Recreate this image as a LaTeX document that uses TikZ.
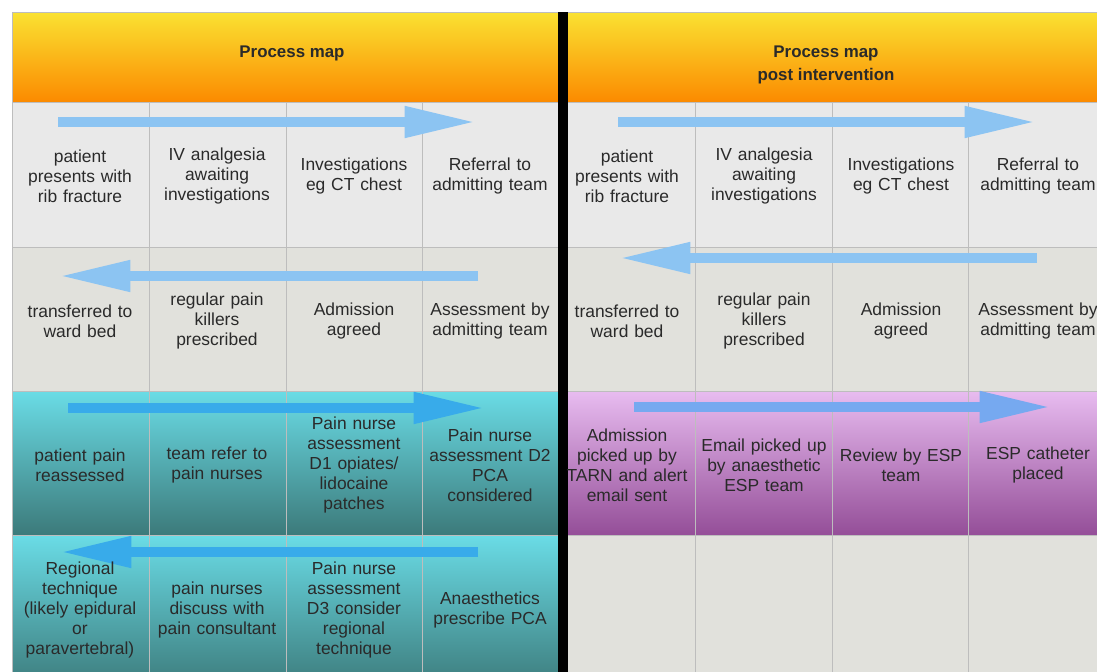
\documentclass[tikz,border=0pt]{standalone}
\usepackage{fontspec}
\setmainfont{Liberation Sans}
\usetikzlibrary{arrows.meta,positioning}
\definecolor{rowa}{HTML}{E9E9E9}
\definecolor{rowb}{HTML}{E1E1DC}
\definecolor{gridgrey}{HTML}{BDBDBD}
\definecolor{headtop}{HTML}{FAE232}
\definecolor{headbot}{HTML}{FB8A00}
\definecolor{tealtop}{HTML}{6ADCE6}
\definecolor{tealbot}{HTML}{3C7A7A}
\definecolor{purptop}{HTML}{E8BCF0}
\definecolor{purpbot}{HTML}{944E98}
\definecolor{flowpale}{HTML}{8CC4F2}
\definecolor{flowteal}{HTML}{38ABEA}
\definecolor{flowpurp}{HTML}{76A9F0}
\definecolor{txtgrey}{HTML}{2A2A2A}
\tikzset{
	cell/.style={text width=3.4cm, align=center, inner sep=0pt,
		font=\fontsize{12.4}{14.2}\selectfont, text=txtgrey},
	headtext/.style={align=center, inner sep=0pt,
		font=\fontsize{12}{16.3}\selectfont\bfseries, text=txtgrey},
	flow/.style={line width=6.6pt, -{Triangle[length=50pt,width=21pt]}},
}
\begin{document}
\begin{tikzpicture}[x=0.025cm,y=-0.025cm]
				\clip (0,0) rectangle (1097,671);
				\fill[white] (0,0) rectangle (1097,671);
				\shade[top color=headtop, bottom color=headbot] (12,12) rectangle (1110,102);
				\fill[rowa] (12,102) rectangle (1110,247);
				\fill[rowb] (12,247) rectangle (1110,391);
				\shade[top color=tealtop, bottom color=tealbot] (12,391) rectangle (558,535);
				\shade[top color=purptop, bottom color=purpbot] (558,391) rectangle (1110,535);
				\shade[top color=tealtop, bottom color=tealbot] (12,535) rectangle (558,690);
				\fill[rowb] (558,535) rectangle (1110,690);
				\foreach \x in {149,286,422,695,832,968}
				\draw[gridgrey] (\x,102) -- (\x,690);
				\foreach \y in {12,102,247,391,535}
				\draw[gridgrey] (12,\y) -- (1110,\y);
				\draw[gridgrey] (12,12) -- (12,690);
				\fill[black] (558,12) rectangle (568,690);
				\node[headtext] (mapleft) at (292,53) {Process map};
				\node[headtext] (mapright) at (826,65) {Process map\\post intervention};
				\coordinate (l1s) at (58,122);   \coordinate (l1e) at (475,122);
				\coordinate (l2s) at (478,276);  \coordinate (l2e) at (60,276);
				\coordinate (l3s) at (68,408);   \coordinate (l3e) at (484,408);
				\coordinate (l4s) at (478,552);  \coordinate (l4e) at (61,552);
				\coordinate (r1s) at (618,122);  \coordinate (r1e) at (1035,122);
				\coordinate (r2s) at (1037,258); \coordinate (r2e) at (620,258);
				\coordinate (r3s) at (634,407);  \coordinate (r3e) at (1050,407);
				\draw[flow, flowpale] (l1s) -- (l1e);
				\draw[flow, flowpale] (l2s) -- (l2e);
				\draw[flow, flowteal] (l3s) -- (l3e);
				\draw[flow, flowteal] (l4s) -- (l4e);
				\draw[flow, flowpale] (r1s) -- (r1e);
				\draw[flow, flowpale] (r2s) -- (r2e);
				\draw[flow, flowpurp] (r3s) -- (r3e);
				\node[cell] (la1) at (80,176) {patient\\presents with\\rib fracture};
				\node[cell] (la2) at (217,176) {IV analgesia\\awaiting\\investigations};
				\node[cell] (la3) at (354,176) {Investigations\\eg CT chest};
				\node[cell] (la4) at (490,176) {Referral to\\admitting team};
				\node[cell] (lb1) at (80,321) {transferred to\\ward bed};
				\node[cell] (lb2) at (217,321) {regular pain\\killers\\prescribed};
				\node[cell] (lb3) at (354,321) {Admission\\agreed};
				\node[cell] (lb4) at (490,321) {Assessment by\\admitting team};
				\node[cell] (lc1) at (80,465) {patient pain\\reassessed};
				\node[cell] (lc2) at (217,465) {team refer to\\pain nurses};
				\node[cell] (lc3) at (354,465) {Pain nurse\\assessment\\D1 opiates/\\lidocaine\\patches};
				\node[cell] (lc4) at (490,465) {Pain nurse\\assessment D2\\PCA\\considered};
				\node[cell] (ld1) at (80,610) {Regional\\technique\\(likely epidural\\or\\paravertebral)};
				\node[cell] (ld2) at (217,610) {pain nurses\\discuss with\\pain consultant};
				\node[cell] (ld3) at (354,610) {Pain nurse\\assessment\\D3 consider\\regional\\technique};
				\node[cell] (ld4) at (490,610) {Anaesthetics\\prescribe PCA};
				\node[cell] (ra1) at (627,176) {patient\\presents with\\rib fracture};
				\node[cell] (ra2) at (764,176) {IV analgesia\\awaiting\\investigations};
				\node[cell] (ra3) at (901,176) {Investigations\\eg CT chest};
				\node[cell] (ra4) at (1038,176) {Referral to\\admitting team};
				\node[cell] (rb1) at (627,321) {transferred to\\ward bed};
				\node[cell] (rb2) at (764,321) {regular pain\\killers\\prescribed};
				\node[cell] (rb3) at (901,321) {Admission\\agreed};
				\node[cell] (rb4) at (1038,321) {Assessment by\\admitting team};
				\node[cell] (rc1) at (627,465) {Admission\\picked up by\\TARN and alert\\email sent};
				\node[cell] (rc2) at (764,465) {Email picked up\\by anaesthetic\\ESP team};
				\node[cell] (rc3) at (901,465) {Review by ESP\\team};
				\node[cell] (rc4) at (1038,465) {ESP catheter\\placed};
				\end{tikzpicture}
\end{document}
